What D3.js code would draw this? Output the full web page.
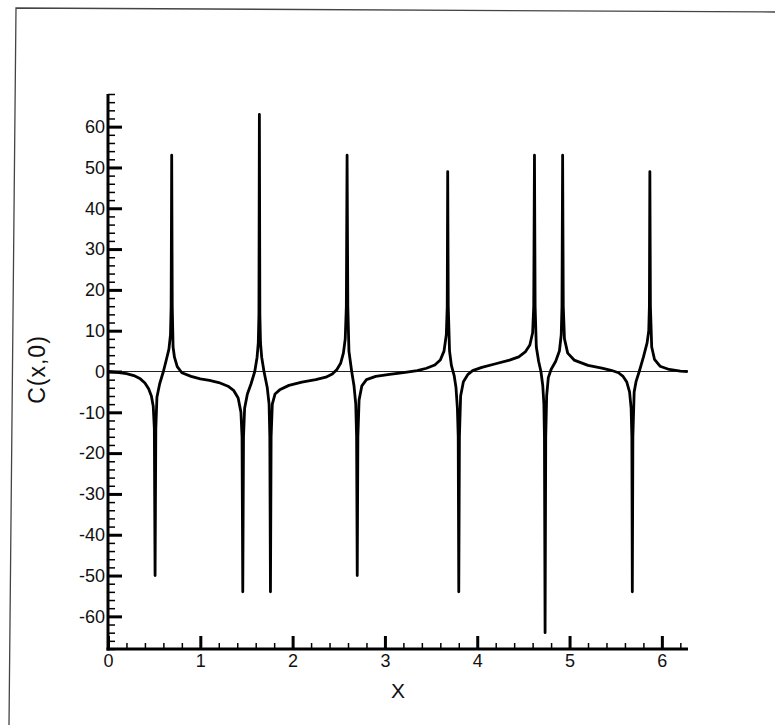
<!DOCTYPE html>
<html>
<head>
<meta charset="utf-8">
<script src="https://cdn.jsdelivr.net/npm/d3@7"></script>
<style>
  body { margin: 0; background: #fff; }
  svg { display: block; }
  text { font-family: "Liberation Sans", Arial, sans-serif; fill: #111; }
</style>
</head>
<body>
<div class="container"></div>
<script>
// values
var xMajor = [0, 1, 2, 3, 4, 5, 6];
var yMajor = [-60, -50, -40, -30, -20, -10, 0, 10, 20, 30, 40, 50, 60];
var xMinor = [0.2,0.4,0.6,0.8,1.2,1.4,1.6,1.8,2.2,2.4,2.6,2.8,3.2,3.4,3.6,3.8,
              4.2,4.4,4.6,4.8,5.2,5.4,5.6,5.8,6.2];
var yMinor = [-68,-66,-64,-62,-58,-56,-54,-52,-48,-46,-44,-42,-38,-36,-34,-32,
              -28,-26,-24,-22,-18,-16,-14,-12,-8,-6,-4,-2,2,4,6,8,12,14,16,18,
              22,24,26,28,32,34,36,38,42,44,46,48,52,54,56,58,62,64,66,68];
var xLabel = "X";
var yLabel = "C(x,0)";

// C(x,0) curve, [x, value]
var curve = [
  [0,0],[0.1,-0.2],[0.2,-0.5],[0.28,-1],[0.35,-1.8],[0.4,-2.8],[0.44,-4.2],[0.47,-6],
  [0.49,-8.5],[0.502,-14],[0.51,-50],[0.518,-14],[0.53,-6.3],[0.56,-3],[0.6,0],
  [0.63,2.7],[0.66,5.5],[0.677,9],[0.684,16],[0.69,53],[0.696,16],[0.705,6],[0.72,3.5],
  [0.75,1.2],[0.8,-0.3],[0.9,-1.2],[1.0,-1.8],[1.1,-2.2],[1.2,-2.7],[1.3,-3.6],
  [1.36,-4.6],[1.41,-6.5],[1.44,-10],[1.452,-16],[1.46,-54],[1.468,-16],[1.48,-9],
  [1.51,-5.5],[1.55,-3],[1.59,0],[1.615,3.5],[1.628,7],[1.635,14],[1.64,63],[1.645,14],
  [1.652,7],[1.665,3.5],[1.69,0],[1.725,-3.9],[1.745,-8],[1.753,-16],[1.76,-54],
  [1.767,-16],[1.78,-8],[1.81,-5.5],[1.86,-4.5],[1.96,-3.4],[2.1,-2.6],[2.25,-2],
  [2.36,-1.4],[2.43,-0.6],[2.48,0.5],[2.52,2],[2.55,4.5],[2.57,8],[2.582,16],[2.59,53],
  [2.598,16],[2.61,5],[2.64,0],[2.665,-3.5],[2.684,-8],[2.693,-16],[2.70,-50],
  [2.707,-16],[2.72,-7],[2.75,-3.5],[2.8,-2],[2.9,-1.2],[3.05,-0.7],[3.2,-0.3],
  [3.35,0.2],[3.45,0.8],[3.54,1.6],[3.6,2.8],[3.64,5],[3.665,9],[3.675,16],[3.68,49],
  [3.686,16],[3.7,5],[3.72,1.5],[3.75,-1],[3.77,-4],[3.785,-9],[3.794,-16],[3.80,-54],
  [3.807,-16],[3.82,-6],[3.85,-2.5],[3.9,-0.7],[3.95,0.2],[4.05,1],[4.2,1.9],
  [4.35,2.8],[4.45,3.6],[4.52,4.8],[4.57,6.5],[4.6,9.5],[4.612,16],[4.62,53],
  [4.627,16],[4.64,6],[4.665,2.5],[4.69,0],[4.71,-3.5],[4.722,-8],[4.728,-16],
  [4.735,-64],[4.742,-16],[4.752,-6],[4.77,-1.5],[4.8,0.5],[4.85,2.5],[4.89,5],
  [4.91,9],[4.918,16],[4.925,53],[4.932,16],[4.945,8],[4.98,4.5],[5.05,2.8],
  [5.2,1.5],[5.35,0.8],[5.45,0.3],[5.53,-0.3],[5.58,-1.2],[5.62,-2.6],[5.65,-5],
  [5.667,-9],[5.675,-16],[5.68,-54],[5.686,-16],[5.7,-5],[5.72,-2.5],[5.755,0],
  [5.8,3.5],[5.84,7],[5.858,10],[5.865,16],[5.87,49],[5.876,16],[5.89,6],[5.92,3],
  [5.98,1.3],[6.08,0.5],[6.2,0.1],[6.28,0]
];

var loadChart = function(){
    var width = 775, height = 725;
    var left = 108, right = 688, top = 94, bottom = 649;

    var svg = d3.select('.container')
                .append('svg')
                .attr('width', width)
                .attr('height', height);

    var x = d3.scaleLinear().domain([0, 2*Math.PI]).range([left, right]);
    var y = d3.scaleLinear().domain([-68, 68]).range([bottom, top]);

    // scanned page frame
    svg.append('polyline')
        .attr('points', '9,725 16,8 775,12')
        .attr('fill', 'none')
        .attr('stroke', '#444')
        .attr('stroke-width', 1.3);

    // zero line
    svg.append('line')
        .attr('x1', x(0)).attr('x2', x(2*Math.PI))
        .attr('y1', y(0)).attr('y2', y(0))
        .attr('stroke', '#222')
        .attr('stroke-width', 1);

    // curve
    var line = d3.line()
        .x(function(d){ return x(d[0]); })
        .y(function(d){ return y(d[1]); });

    svg.append('path')
        .datum(curve)
        .attr('d', line)
        .attr('fill', 'none')
        .attr('stroke', '#000')
        .attr('stroke-width', 2.8)
        .attr('stroke-linejoin', 'round');

    var plain = function(d){ return String(d); };

    // x axis, ticks pointing inward
    var xAxis = svg.append('g')
        .attr('transform', 'translate(0,' + bottom + ')');
    xAxis.append('g')
        .call(d3.axisBottom(x).tickValues(xMinor).tickSize(-6).tickFormat(''))
        .call(function(g){ g.selectAll('line').attr('stroke-width', 1.5); });
    xAxis.append('g')
        .call(d3.axisBottom(x).tickValues(xMajor).tickSize(-13).tickPadding(19)
              .tickFormat(plain))
        .call(function(g){
            g.selectAll('line').attr('stroke-width', 3);
            g.selectAll('text').attr('font-size', 18).attr('dy', '-0.05em');
        });
    xAxis.selectAll('.domain').remove();

    // y axis
    var yAxis = svg.append('g')
        .attr('transform', 'translate(' + left + ',0)');
    yAxis.append('g')
        .call(d3.axisLeft(y).tickValues(yMinor).tickSize(-7).tickFormat(''))
        .call(function(g){ g.selectAll('line').attr('stroke-width', 1.5); });
    yAxis.append('g')
        .call(d3.axisLeft(y).tickValues(yMajor).tickSize(-14).tickPadding(4)
              .tickFormat(plain))
        .call(function(g){
            g.selectAll('line').attr('stroke-width', 3);
            g.selectAll('text').attr('font-size', 18).attr('x', -3);
        });
    yAxis.selectAll('.domain').remove();

    // axis lines
    svg.append('line')
        .attr('x1', left - 1.5).attr('x2', right)
        .attr('y1', bottom).attr('y2', bottom)
        .attr('stroke', '#000').attr('stroke-width', 3);
    svg.append('line')
        .attr('x1', left).attr('x2', left)
        .attr('y1', top).attr('y2', bottom + 1.5)
        .attr('stroke', '#000').attr('stroke-width', 3);

    svg.append('text')
        .attr('x', 398)
        .attr('y', 698)
        .attr('text-anchor', 'middle')
        .attr('font-size', 21)
        .text(xLabel);

    svg.append('text')
        .attr('transform', 'translate(45,' + (y(0) - 2) + ') rotate(-90)')
        .attr('text-anchor', 'middle')
        .attr('font-size', 23)
        .attr('letter-spacing', 1)
        .text(yLabel);
}
window.onload = loadChart;
</script>
</body>
</html>
